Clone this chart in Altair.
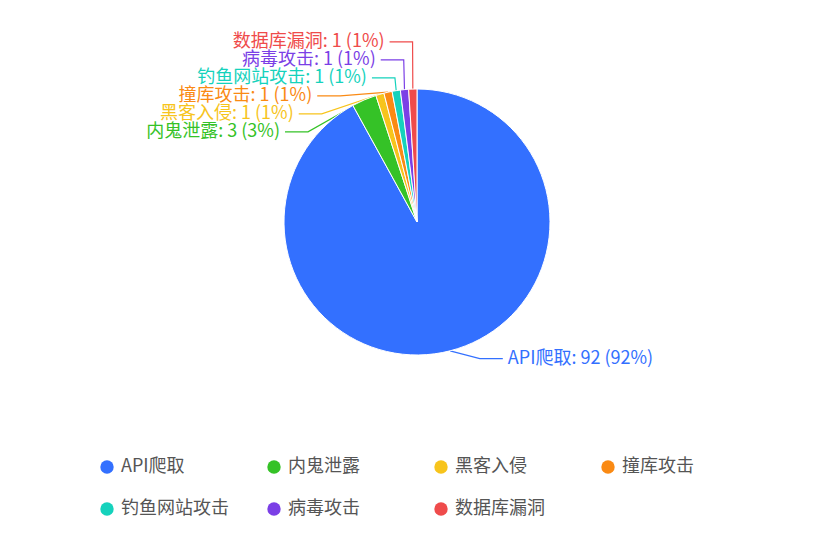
import math

import altair as alt
import pandas as pd

names = ["API爬取", "内鬼泄露", "黑客入侵", "撞库攻击", "钓鱼网站攻击", "病毒攻击", "数据库漏洞"]
counts = [92, 3, 1, 1, 1, 1, 1]
colors = ["#3370ff", "#35c227", "#f7c41c", "#fa8a14", "#15d2bc", "#7b3fe6", "#ef4b4b"]

FONT = "Noto Sans CJK SC"
W, H = 800, 520          # plot area
CX, CY, R = 417, 222, 133  # pie centre / radius in page pixels
LEN1, LEN2, GAP, LINE_H = 8, 23, 5, 18


def label_layout():
    """echarts-style outer labels: radial elbow, push apart vertically, snap x to a circle."""
    total = sum(counts)
    items, acc = [], 0
    for i, (n, v) in enumerate(zip(names, counts)):
        mid = (acc + v / 2) / total * 2 * math.pi
        acc += v
        sx, sy = math.sin(mid), -math.cos(mid)
        d = -1 if sx < 0 else 1
        x1, y1 = CX + (R + LEN1) * sx, CY + (R + LEN1) * sy
        items.append(dict(
            idx=i, name=n, d=d,
            text=f"{n}: {v} ({round(v / total * 100)}%)",
            x0=CX + R * sx, y0=CY + R * sy,
            lx=x1 + d * (LEN2 + GAP), ly=y1,
        ))

    for d in (-1, 1):
        side = sorted([s for s in items if s["d"] == d], key=lambda s: s["ly"])
        n = len(side)

        def shift_up(end, delta):
            for j in range(end, -1, -1):
                side[j]["ly"] -= delta
                if j > 0 and side[j]["ly"] > side[j - 1]["ly"] + LINE_H:
                    break

        def shift_down(start, end, delta):
            for j in range(start, end):
                side[j]["ly"] += delta
                if j > start and j + 1 < end and side[j + 1]["ly"] > side[j]["ly"] + LINE_H:
                    shift_up(j, delta / 2)
                    return
            shift_up(end - 1, delta / 2)

        last = 0
        for i in range(n):
            delta = side[i]["ly"] - last
            if delta < 0:
                shift_down(i, n, -delta)
            last = side[i]["ly"] + LINE_H

        for down in (False, True):
            part = [s for s in side if (s["ly"] >= CY) == down]
            last_dx = float("inf") if down else 0
            for s in part:
                dy = abs(s["ly"] - CY)
                if dy < R + LEN1:
                    dx = math.sqrt((R + LEN1 + LEN2) ** 2 - dy ** 2)
                else:
                    dx = abs(s["lx"] - CX)
                if down and dx >= last_dx:
                    dx = last_dx - 10
                if not down and dx <= last_dx:
                    dx = last_dx + 10
                s["lx"] = CX + dx * d
                last_dx = dx
    return items


items = label_layout()

pie_df = pd.DataFrame({"name": names, "value": counts, "idx": range(len(names))})

line_rows = []
for s in items:
    x2 = s["lx"] - s["d"] * GAP
    pts = [(s["x0"], s["y0"]), (x2 - s["d"] * LEN2, s["ly"]), (x2, s["ly"])]
    for k, (x, y) in enumerate(pts):
        line_rows.append({"name": s["name"], "step": k, "x": x, "y": y})
line_df = pd.DataFrame(line_rows)

label_df = pd.DataFrame([
    {"name": s["name"], "text": s["text"], "x": s["lx"], "y": s["ly"],
     "side": "left" if s["d"] < 0 else "right"}
    for s in items
])

xs = alt.Scale(domain=[8, 8 + W], nice=False, zero=False)
ys = alt.Scale(domain=[8, 8 + H], nice=False, zero=False, reverse=True)
cs = alt.Scale(domain=names, range=colors)

legend = alt.Legend(
    title=None,
    orient="none",
    direction="horizontal",
    legendX=90,
    legendY=450,
    columns=4,
    gridAlign="all",
    columnPadding=36,
    rowPadding=24,
    symbolType="circle",
    symbolSize=180,
    symbolStrokeWidth=0,
    symbolOpacity=1,
    labelFont=FONT,
    labelFontSize=18,
    labelColor="#555555",
    labelOffset=5,
    labelLimit=300,
    padding=0,
)
color = alt.Color("name:N", scale=cs, legend=legend)

lines = (
    alt.Chart(line_df)
    .mark_line(strokeWidth=1.2)
    .encode(
        x=alt.X("x:Q", scale=xs, axis=None),
        y=alt.Y("y:Q", scale=ys, axis=None),
        order="step:Q",
        detail="name:N",
        color=color,
    )
)

pie = (
    alt.Chart(pie_df)
    .mark_arc(outerRadius=R, stroke="white", strokeWidth=1)
    .encode(
        theta=alt.Theta("value:Q", stack=True),
        order=alt.Order("idx:Q"),
        x=alt.value(CX - 8),
        y=alt.value(CY - 8),
        color=color,
    )
)


def side_text(side, align):
    return (
        alt.Chart(label_df)
        .transform_filter(alt.datum.side == side)
        .mark_text(align=align, baseline="middle", font=FONT, fontSize=18)
        .encode(
            x=alt.X("x:Q", scale=xs, axis=None),
            y=alt.Y("y:Q", scale=ys, axis=None),
            text="text:N",
            color=color,
        )
    )


chart = (
    alt.layer(lines, pie, side_text("left", "right"), side_text("right", "left"))
    .properties(width=W, height=H, autosize=alt.AutoSizeParams(type="none"),
                padding=0, background="white")
    .configure_view(stroke=None)
)

chart.save("out.html", embed_options={"renderer": "svg", "actions": False})
